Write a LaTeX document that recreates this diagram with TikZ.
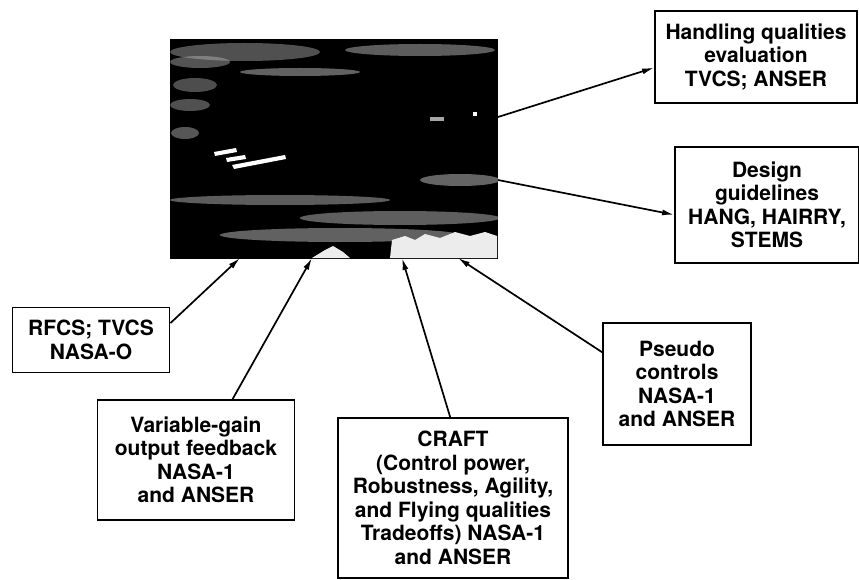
\documentclass[tikz,border=0pt]{standalone}
\usepackage{fontspec}
\setmainfont{TeX Gyre Heros}
\usetikzlibrary{arrows.meta, positioning}

\begin{document}
\begin{tikzpicture}[
        x=1pt, y=-1pt, >={Latex[length=12pt,width=6pt]},
        box/.style={draw, line width=1.8pt, align=center, inner sep=0pt,
          font=\fontsize{21}{23.5}\selectfont\bfseries},
        link/.style={->, line width=1.7pt},
        streak/.style={opacity=0.45},
        ]
        \useasboundingbox (0,0) rectangle (859,580);

        % photograph
        \node[fill=black, draw=black, line width=1.5pt, inner sep=0pt,
          minimum width=326pt, minimum height=218pt] (photo) at (334,149) {};
        \begin{scope}
          \clip (photo.north west) rectangle (photo.south east);
          \foreach \cx/\cy/\rx/\ry/\g in {245/52/75/9/60, 420/50/75/6/40, 200/62/30/6/55,
              195/85/22/7/65, 190/105/20/6/60, 185/133/14/6/50, 300/72/60/4/30,
              280/200/110/5/40, 400/218/100/7/35, 460/180/40/6/25, 340/235/120/7/30}
            \fill[streak, fill=gray!\g] (\cx,\cy) ellipse ({\rx} and {\ry});
          \fill[white!85!gray] (390,258) -- (392,240) -- (405,236) -- (415,240) -- (425,234)
            -- (440,238) -- (455,232) -- (470,236) -- (485,232) -- (497,236) -- (497,258) -- cycle;
          \fill[white!85!gray] (312,258) -- (325,250) -- (333,246) -- (343,252) -- (350,258) -- cycle;
          \fill[white] (214,152) -- (236,148) -- (237,152) -- (215,156) -- cycle;
          \fill[white] (226,158) -- (245,155) -- (246,159) -- (227,162) -- cycle;
          \fill[white] (232,165) -- (285,155) -- (286,159) -- (234,169) -- cycle;
          \fill[gray!70] (430,117) rectangle (444,121);
          \fill[white] (473,112) rectangle (477,116);
        \end{scope}

        \node[box, minimum width=202pt, minimum height=92pt] (hq) at (756,57)
          {Handling qualities\\evaluation\\TVCS; ANSER};
        \node[box, minimum width=184pt, minimum height=116pt] (dg) at (767,205)
          {Design\\guidelines\\HANG, HAIRRY,\\STEMS};
        \node[box, minimum width=157pt, minimum height=65pt] (rf) at (91,340)
          {RFCS; TVCS\\NASA-O};
        \node[box, minimum width=197pt, minimum height=120pt] (vg) at (196,460)
          {Variable-gain\\output feedback\\NASA-1\\and ANSER};
        \node[box, minimum width=230pt, minimum height=160pt] (cr) at (453,498)
          {CRAFT\\(Control power,\\Robustness, Agility,\\and Flying qualities\\Tradeoffs) NASA-1\\and ANSER};
        \node[box, minimum width=148pt, minimum height=122pt] (ps) at (677,384)
          {Pseudo\\controls\\NASA-1\\and ANSER};

        \coordinate (p1) at (498,117);
        \coordinate (p2) at (498,180);
        \coordinate (p3) at (240,258);
        \coordinate (p4) at (312,258);
        \coordinate (p5) at (402,258);
        \coordinate (p6) at (458,258);

        \draw[link] (p1) -- (hq.186);
        \draw[link] (p2) -- (dg.186);
        \draw[link] (rf.12) -- (p3);
        \draw[link] (vg.59) -- (p4);
        \draw[link] (cr.92) -- (p5);
        \draw[link] (ps.157) -- (p6);
      \end{tikzpicture}
\end{document}
